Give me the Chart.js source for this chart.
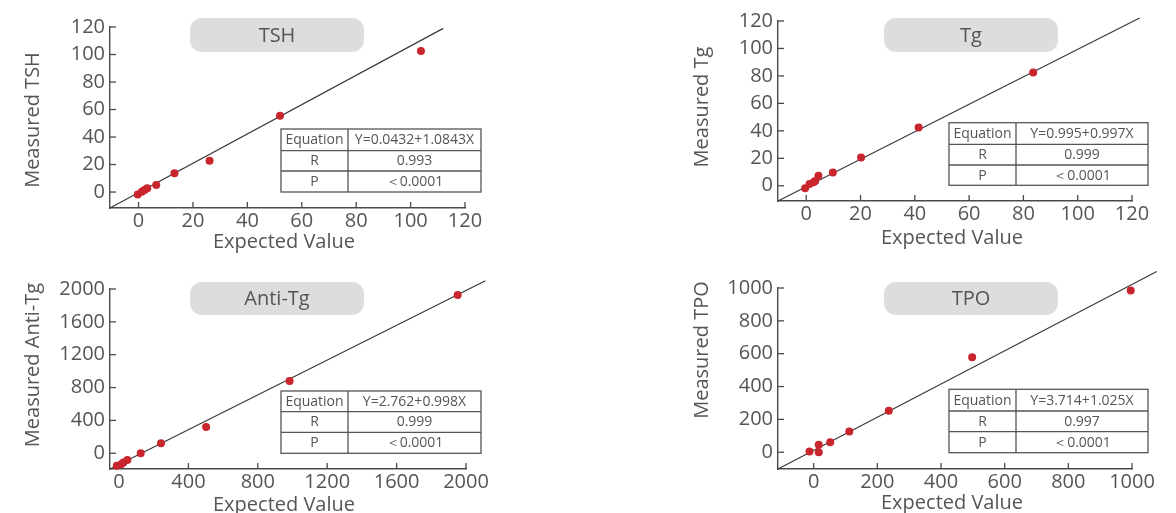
<!DOCTYPE html>
<html><head><meta charset="utf-8">
<script src="https://cdn.jsdelivr.net/npm/chart.js@4/dist/chart.umd.min.js"></script>
<style>
html,body{margin:0;padding:0;background:#fff;width:1176px;height:513px;overflow:hidden;position:relative}
canvas{position:absolute;display:block}
</style></head><body>
<canvas id="c1" width="588" height="256" style="left:0;top:0"></canvas>
<canvas id="c2" width="588" height="256" style="left:588px;top:0"></canvas>
<canvas id="c3" width="588" height="257" style="left:0;top:256px"></canvas>
<canvas id="c4" width="588" height="257" style="left:588px;top:256px"></canvas>
<script>
// ---- data ----
const tshExpected = [-0.3, 1.2, 2.2, 3.2, 6.5, 13.2, 26.1, 52, 103.8];
const tshMeasured = [-1.8, 0.3, 1.5, 2.7, 5.2, 13.6, 22.8, 55.5, 102.5];
const tshLineX = [-10.5, 112];
const tshLineY = [-11.6, 119];
const tshTicks = [0, 20, 40, 60, 80, 100, 120];

const tgExpected = [-0.4, 1.2, 2.7, 3.3, 4.5, 9.8, 20.2, 41.4, 83.6];
const tgMeasured = [-1.9, 1.2, 2.5, 3.4, 7.3, 9.7, 20.6, 42.5, 82.5];
const tgLineX = [-10.4, 122.8];
const tgLineY = [-11.1, 122.2];
const tgTicks = [0, 20, 40, 60, 80, 100, 120];

const antiExpected = [-13, 12, 25, 48, 125, 242, 502, 983, 1952];
const antiMeasured = [-151, -134, -114, -82, 0, 122, 320, 880, 1926];
const antiLineX = [-52, 2112];
const antiLineY = [-192, 2100];
const antiTicks = [0, 400, 800, 1200, 1600, 2000];

const tpoExpected = [-13, 16, 16, 52, 112, 236, 498, 996];
const tpoMeasured = [4, 45, 0, 61, 126, 252, 579, 985];
const tpoLineX = [-112, 1078];
const tpoLineY = [-102, 1101];
const tpoTicks = [0, 200, 400, 600, 800, 1000];

const panelNames = ['TSH', 'Tg', 'Anti-Tg', 'TPO'];
const yTitles = ['Measured TSH', 'Measured Tg', 'Measured Anti-Tg', 'Measured TPO'];
const xTitle = 'Expected Value';
const equations = ['Y=0.0432+1.0843X', 'Y=0.995+0.997X', 'Y=2.762+0.998X', 'Y=3.714+1.025X'];
const rValues = ['0.993', '0.999', '0.999', '0.997'];
const pValues = ['\uFF1C0.0001', '\uFF1C0.0001', '\uFF1C0.0001', '\uFF1C0.0001'];

// ---- style ----
const FONT = "'Open Sans', 'Noto Sans', sans-serif";
const TXT = '#555557';
const AXIS = '#4a4a4a';
const DOT = '#c9252c';

// ---- layout per panel (canvas-local px) ----
const layouts = [
  {L:110, R:465, T:27, B:208, xr:[-10.5,120], yr:[-11.6,120],
   box:[190,18,364,52], tab:[281,129,481,192,348,150.7,171], xt:[284,242], yt:[33,120]},
  {L:190, R:544, T:21, B:201, xr:[-10.4,120], yr:[-11.1,120],
   box:[296,18,470,52], tab:[361,122.7,560,185.3,428,144.3,165], xt:[364,238], yt:[114,107]},
  {L:110, R:466, T:33, B:213, xr:[-52,2000], yr:[-192,2000],
   box:[190,26,364,59], tab:[281,135,481,197.3,348,155.7,176.3], xt:[284,249], yt:[33,109]},
  {L:190, R:544, T:32, B:213, xr:[-112,1000], yr:[-102,1000],
   box:[296,26,470,59], tab:[361,133.3,560,196.7,428,155,175.7], xt:[364,247], yt:[114,94]}
];

const deco = {
  id: 'deco',
  beforeDatasetsDraw(chart) {
    const ctx = chart.ctx, a = chart.chartArea;
    const xs = chart.scales.x, ys = chart.scales.y;
    ctx.save();
    ctx.strokeStyle = AXIS; ctx.lineWidth = 1.3;
    xs.ticks.forEach(t => {
      const px = xs.getPixelForValue(t.value);
      ctx.beginPath(); ctx.moveTo(px, a.bottom); ctx.lineTo(px, a.bottom - 6); ctx.stroke();
    });
    ys.ticks.forEach(t => {
      const py = ys.getPixelForValue(t.value);
      ctx.beginPath(); ctx.moveTo(a.left, py); ctx.lineTo(a.left + 6, py); ctx.stroke();
    });
    ctx.restore();
  },
  afterDraw(chart) {
    const o = chart.options.plugins.deco;
    const lay = o.lay, i = o.idx;
    const ctx = chart.ctx;
    ctx.save();
    // title box
    const [bx0, by0, bx1, by1] = lay.box;
    const r = 12;
    ctx.fillStyle = '#dcdddd';
    ctx.beginPath();
    ctx.roundRect(bx0, by0, bx1 - bx0, by1 - by0, r);
    ctx.fill();
    ctx.fillStyle = TXT;
    ctx.font = '20px ' + FONT;
    ctx.textAlign = 'center'; ctx.textBaseline = 'middle';
    ctx.fillText(panelNames[i], (bx0 + bx1) / 2, (by0 + by1) / 2 + 1);
    // table
    const [tx0, ty0, tx1, ty1, tc, r1, r2] = lay.tab;
    ctx.strokeStyle = '#555'; ctx.lineWidth = 1.3;
    ctx.strokeRect(tx0, ty0, tx1 - tx0, ty1 - ty0);
    ctx.beginPath();
    ctx.moveTo(tc, ty0); ctx.lineTo(tc, ty1);
    ctx.moveTo(tx0, r1); ctx.lineTo(tx1, r1);
    ctx.moveTo(tx0, r2); ctx.lineTo(tx1, r2);
    ctx.stroke();
    ctx.font = '14px ' + FONT;
    const rows = [[ty0, r1, 'Equation', equations[i]], [r1, r2, 'R', rValues[i]], [r2, ty1, 'P', pValues[i]]];
    rows.forEach(([a, b, l, v]) => {
      const cy = (a + b) / 2 + 0.5;
      ctx.fillText(l, (tx0 + tc) / 2, cy);
      ctx.fillText(v, (tc + tx1) / 2, cy);
    });
    // axis titles
    ctx.font = '20px ' + FONT;
    ctx.fillText(xTitle, lay.xt[0], lay.xt[1]);
    ctx.translate(lay.yt[0], lay.yt[1]);
    ctx.rotate(-Math.PI / 2);
    ctx.fillText(yTitles[i], 0, 0);
    ctx.restore();
  }
};

function makeChart(id, idx, ex, me, lx, ly, ticks) {
  const lay = layouts[idx];
  const canvas = document.getElementById(id);
  const W = canvas.width, H = canvas.height;
  const pts = ex.map((x, k) => ({x: x, y: me[k]}));
  const line = lx.map((x, k) => ({x: x, y: ly[k]}));
  const tickFont = {family: FONT, size: 20, lineHeight: 1.2};
  new Chart(canvas, {
    type: 'scatter',
    data: {
      datasets: [
        {type: 'scatter', data: pts, backgroundColor: DOT, borderColor: DOT, pointRadius: 4, pointHoverRadius: 4, borderWidth: 0, clip: false},
        {type: 'line', data: line, borderColor: '#3a3a3a', borderWidth: 1.2, pointRadius: 0, fill: false, clip: false, tension: 0}
      ]
    },
    options: {
      responsive: false,
      animation: false,
      events: [],
      layout: {padding: {left: 0, top: lay.T, right: W - lay.R, bottom: 0}},
      plugins: {legend: {display: false}, tooltip: {enabled: false}, title: {display: false},
        deco: {lay: lay, idx: idx}},
      scales: {
        x: {
          type: 'linear', position: 'bottom', min: lay.xr[0], max: lay.xr[1],
          afterBuildTicks: s => { s.ticks = ticks.map(v => ({value: v})); },
          afterFit: s => { s.height = H - lay.B; },
          grid: {display: false, drawTicks: false},
          border: {display: true, color: AXIS, width: 1.4},
          ticks: {padding: 1, color: TXT, font: tickFont, maxRotation: 0, autoSkip: false, callback: v => String(v)}
        },
        y: {
          type: 'linear', position: 'left', min: lay.yr[0], max: lay.yr[1],
          afterBuildTicks: s => { s.ticks = ticks.map(v => ({value: v})); },
          afterFit: s => { s.width = lay.L; },
          grid: {display: false, drawTicks: false},
          border: {display: true, color: AXIS, width: 1.4},
          ticks: {padding: 5, color: TXT, font: tickFont, autoSkip: false, callback: v => String(v)}
        }
      }
    },
    plugins: [deco]
  });
}

makeChart('c1', 0, tshExpected, tshMeasured, tshLineX, tshLineY, tshTicks);
makeChart('c2', 1, tgExpected, tgMeasured, tgLineX, tgLineY, tgTicks);
makeChart('c3', 2, antiExpected, antiMeasured, antiLineX, antiLineY, antiTicks);
makeChart('c4', 3, tpoExpected, tpoMeasured, tpoLineX, tpoLineY, tpoTicks);
</script>
</body></html>
